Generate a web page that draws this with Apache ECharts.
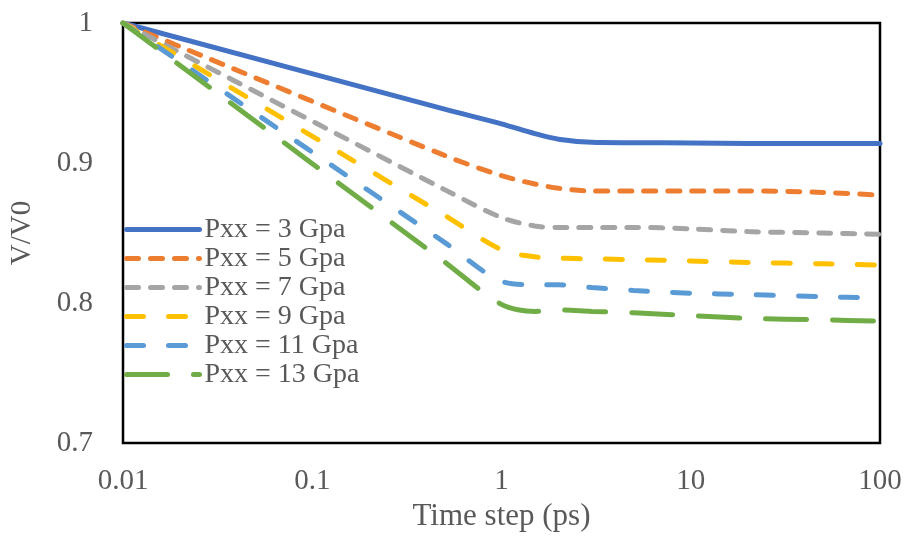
<!DOCTYPE html>
<html>
<head>
<meta charset="utf-8">
<script src="https://cdn.jsdelivr.net/npm/echarts@6/dist/echarts.min.js"></script>
<style>
  html, body { margin: 0; padding: 0; background: #fff; }
  #chart { width: 907px; height: 538px; }
</style>
</head>
<body>
<div id="chart"></div>
<script>
// time steps (ps), shared by every series
const times = [0.01, 0.5, 1, 1.5, 2, 3, 5, 10, 20, 50, 100]
const seriesNames = ['Pxx = 3 Gpa', 'Pxx = 5 Gpa', 'Pxx = 7 Gpa', 'Pxx = 9 Gpa', 'Pxx = 11 Gpa', 'Pxx = 13 Gpa']
const p3 = [1.000, 0.9385, 0.928, 0.921, 0.917, 0.9148, 0.9145, 0.9143, 0.914, 0.914, 0.914]
const p5 = [1.000, 0.9054, 0.891, 0.885, 0.882, 0.880, 0.880, 0.880, 0.880, 0.879, 0.877]
const p7 = [1.000, 0.881, 0.861, 0.855, 0.854, 0.854, 0.854, 0.853, 0.851, 0.850, 0.849]
const p9 = [1.000, 0.8626, 0.838, 0.833, 0.832, 0.8315, 0.831, 0.830, 0.829, 0.828, 0.827]
const p11 = [1.000, 0.8433, 0.8155, 0.813, 0.813, 0.811, 0.809, 0.807, 0.806, 0.8045, 0.8035]
const p13 = [1.000, 0.8294, 0.799, 0.794, 0.795, 0.794, 0.793, 0.791, 0.789, 0.788, 0.787]

const font = "'Liberation Serif', 'Times New Roman', serif"
const textColor = '#595959'

let chart = echarts.init(document.getElementById('chart'))

function mkSeries(name, values, color, dash) {
  return {
    name: name,
    type: 'line',
    data: times.map((t, i) => [t, values[i]]),
    symbol: 'none',
    smooth: 0.3,
    lineStyle: {color: color, width: 5, type: dash, cap: 'round'},
    itemStyle: {color: color}
  }
}

let option = {
  animation: false,
  grid: {
    left: 118, right: 27, top: 23, bottom: 95,
    show: true, borderColor: '#000', borderWidth: 2.5
  },
  legend: {
    orient: 'vertical',
    left: 124, top: 215,
    padding: 0,
    itemGap: 0,
    itemWidth: 73,
    itemHeight: 14,
    data: seriesNames,
    itemStyle: {opacity: 0},
    lineStyle: {width: 5, cap: 'round'},
    textStyle: {fontFamily: font, fontSize: 28, color: textColor, lineHeight: 29}
  },
  xAxis: {
    type: 'log',
    logBase: 10,
    min: 0.01,
    max: 100,
    name: 'Time step (ps)',
    nameLocation: 'middle',
    nameGap: 58,
    nameTextStyle: {fontFamily: font, fontSize: 31, color: textColor},
    axisLine: {show: false},
    axisTick: {show: false},
    splitLine: {show: false},
    minorTick: {show: false},
    axisLabel: {
      fontFamily: font, fontSize: 29, color: textColor, margin: 24,
      formatter: v => String(+v.toPrecision(3))
    }
  },
  yAxis: {
    type: 'value',
    min: 0.7,
    max: 1,
    interval: 0.1,
    name: 'V/V0',
    nameLocation: 'middle',
    nameGap: 86,
    nameTextStyle: {fontFamily: font, fontSize: 29, color: textColor},
    axisLine: {show: false},
    axisTick: {show: false},
    splitLine: {show: false},
    axisLabel: {
      fontFamily: font, fontSize: 29, color: textColor, margin: 30,
      formatter: v => String(+v.toFixed(1))
    }
  },
  series: [
    mkSeries(seriesNames[0], p3, '#4472C4', 'solid'),
    mkSeries(seriesNames[1], p5, '#ED7D31', [12, 12]),
    mkSeries(seriesNames[2], p7, '#A5A5A5', [12, 12]),
    mkSeries(seriesNames[3], p9, '#FFC000', [17, 25]),
    mkSeries(seriesNames[4], p11, '#5B9BD5', [17, 25]),
    mkSeries(seriesNames[5], p13, '#70AD47', [41, 26])
  ]
}

chart.setOption(option)
</script>
</body>
</html>
